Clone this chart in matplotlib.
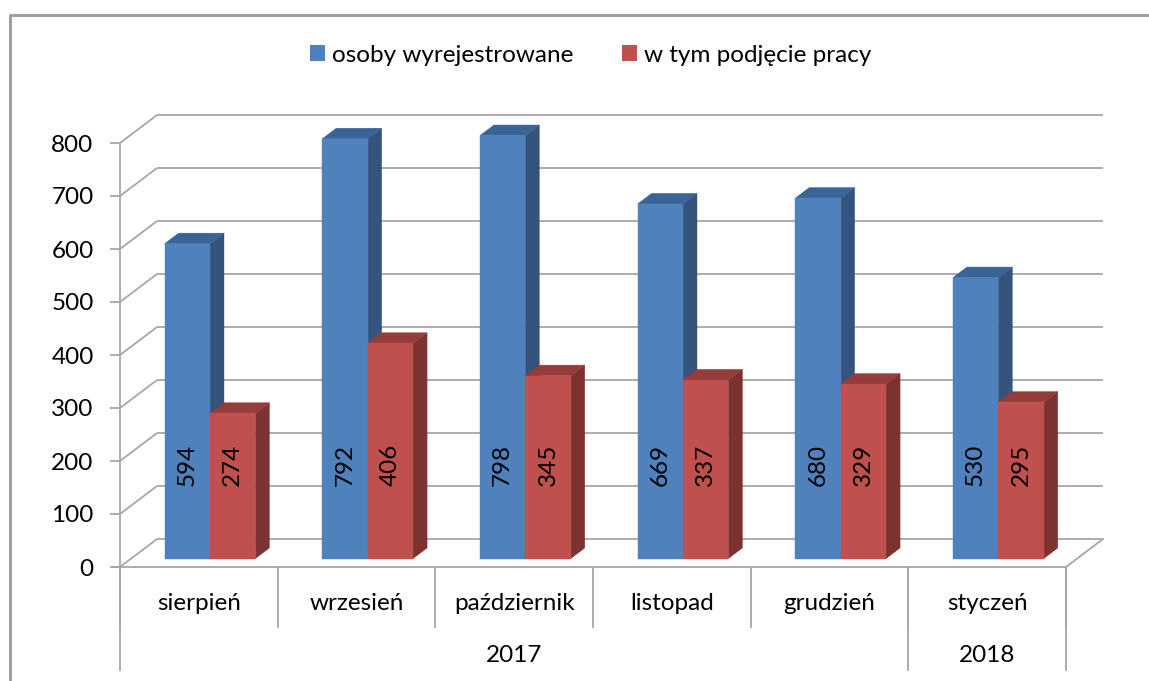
import matplotlib
matplotlib.use("Agg")
import matplotlib.pyplot as plt
from matplotlib.patches import Polygon, Patch
from matplotlib.lines import Line2D

months = ["sierpień", "wrzesień", "październik", "listopad", "grudzień", "styczeń"]
years = ["2017", "2018"]
year_spans = [5, 1]
series_names = ["osoby wyrejestrowane", "w tym podjęcie pracy"]
wyrejestrowane = [594, 792, 798, 669, 680, 530]
podjecie_pracy = [274, 406, 345, 337, 329, 295]
y_ticks = [0, 100, 200, 300, 400, 500, 600, 700, 800]

FONT = ["Lato", "DejaVu Sans"]
plt.rcParams["font.family"] = FONT
FS = 17.5

W, H = 1149, 681
fig = plt.figure(figsize=(W / 100, H / 100), dpi=100)

# front plane of the 3-D box in pixels
x0p, x1p, y0p, y1p = 120, 1066, 567, 143
ax = fig.add_axes([x0p / W, (H - y0p) / H, (x1p - x0p) / W, (y0p - y1p) / H])
n = len(months)
ax.set_xlim(0, n)
ax.set_ylim(0, 800)
pxx = (x1p - x0p) / n           # px per category
pxy = (y0p - y1p) / 800         # px per value unit

DX = 37 / pxx                   # full depth of box
DY = 28 / pxy
grid_c = "#A6A6A6"
lw = 1.3

# walls / grid
for v in y_ticks:
    ax.plot([0, DX], [v, v + DY], color=grid_c, lw=lw, clip_on=False, zorder=1,
            solid_capstyle="butt")
    ax.plot([DX, n + DX], [v + DY, v + DY], color=grid_c, lw=lw, clip_on=False, zorder=1,
            solid_capstyle="butt")
ax.plot([n, n + DX], [0, DY], color=grid_c, lw=lw, clip_on=False, zorder=1)

# spines & ticks
for s in ["top", "right"]:
    ax.spines[s].set_visible(False)
for s in ["left", "bottom"]:
    ax.spines[s].set_color(grid_c)
    ax.spines[s].set_linewidth(lw)
ax.spines["bottom"].set_bounds(-7 / pxx, n)
ax.set_yticks(y_ticks)
ax.set_yticklabels([str(v) for v in y_ticks], fontsize=FS)
ax.tick_params(axis="y", length=7, width=lw, color=grid_c, pad=12, labelcolor="black")
ax.set_xticks([])

# bars
f = 0.3
sx, sy = f * DX, f * DY
bd = 0.38
bx, by = bd * DX, bd * DY
w = 0.288
cols = [("#4F81BD", "#3A6396", "#34547E"), ("#C0504D", "#953D3A", "#7C3230")]
for i in range(n):
    for k, vals in enumerate([wyrejestrowane, podjecie_pracy]):
        front, top, side = cols[k]
        v = vals[i]
        xl = i + 0.5 + sx - w + k * w
        xr = xl + w
        zb = 2 + 2 * k
        ax.bar(xl, v, width=w, bottom=sy, align="edge", color=front, zorder=zb + 1,
               edgecolor=front, linewidth=0.3, clip_on=False)
        ax.add_patch(Polygon([(xr, sy), (xr + bx, sy + by), (xr + bx, sy + v + by), (xr, sy + v)],
                             closed=True, facecolor=side, edgecolor=side, lw=0.3,
                             zorder=zb, clip_on=False))
        ax.add_patch(Polygon([(xl, sy + v), (xr, sy + v), (xr + bx, sy + v + by), (xl + bx, sy + v + by)],
                             closed=True, facecolor=top, edgecolor=top, lw=0.3,
                             zorder=zb, clip_on=False))
        ax.text(xl + w / 2, 192, str(v), rotation=90, ha="center", va="center",
                fontsize=FS, color="black", zorder=10)

# category axis (multi-level)
def vline(x, y_a, y_b):
    ax.plot([x, x], [y_a, y_b], color=grid_c, lw=lw, clip_on=False, zorder=1)

row1 = -(627 - y0p) / pxy
row2 = -(670 - y0p) / pxy
for i in range(n + 1):
    vline(i, 0, row1)
pos = 0
bounds = [0]
for span in year_spans:
    pos += span
    bounds.append(pos)
for b in bounds:
    vline(b, 0, row2)
for i, m in enumerate(months):
    ax.text(i + 0.5, -(603 - y0p) / pxy, m, ha="center", va="center", fontsize=FS)
for j, yname in enumerate(years):
    ax.text((bounds[j] + bounds[j + 1]) / 2, -(655 - y0p) / pxy, yname,
            ha="center", va="center", fontsize=FS)

# legend
handles = [Patch(facecolor=cols[0][0], edgecolor="none"),
           Patch(facecolor=cols[1][0], edgecolor="none")]
fig.legend(handles, series_names, loc="center", bbox_to_anchor=(591 / W, 1 - 55 / H),
           ncol=2, frameon=False, fontsize=FS, handlelength=0.6, handleheight=0.6,
           handletextpad=0.3, columnspacing=2.0)

# outer chart border (left and top)
fig.add_artist(Line2D([9.5 / W, 9.5 / W, 1.0], [0, 1 - 14.5 / H, 1 - 14.5 / H],
                      transform=fig.transFigure, color="#A0A0A0", lw=2.2))

fig.savefig("out.png", dpi=100)
